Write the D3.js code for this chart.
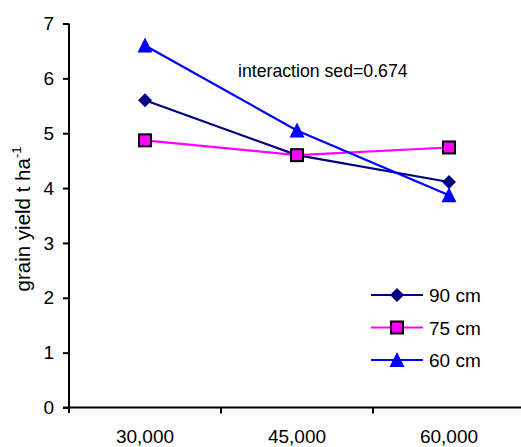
<!DOCTYPE html>
<html><head><meta charset="utf-8">
<script src="https://cdn.jsdelivr.net/npm/d3@7"></script>
<style>body{margin:0;background:#fff}svg{display:block;font-family:Arial,"Liberation Sans",sans-serif}</style>
</head><body>
<script>
const categories = ["30,000", "45,000", "60,000"];
const seriesNames = ["90 cm", "75 cm", "60 cm"];
const values90 = [5.60, 4.60, 4.11];
const values75 = [4.87, 4.60, 4.74];
const values60 = [6.60, 5.05, 3.87];
const yTicks = [0, 1, 2, 3, 4, 5, 6, 7];
const annotation = "interaction sed=0.674";

const W = 521, H = 447;
const svg = d3.select("body").append("svg").attr("width", W).attr("height", H);

const x = d3.scaleBand().domain(categories).range([69, 525]);
const y = d3.scaleLinear().domain([0, 7]).range([407.5, 23.5]);

const series = [
  {name: seriesNames[0], values: values90, color: "#000080", marker: "diamond"},
  {name: seriesNames[1], values: values75, color: "#FF00FF", marker: "square"},
  {name: seriesNames[2], values: values60, color: "#0000FF", marker: "triangle"}
];

// Y axis
const yAxis = svg.append("g").attr("transform", "translate(69,0)")
  .call(d3.axisLeft(y).tickValues(yTicks).tickSize(6).tickPadding(9).tickFormat(d3.format("d")));
yAxis.select(".domain").attr("stroke", "#000").attr("stroke-width", 2).attr("d", "M0,23.5V413");
yAxis.selectAll(".tick line").attr("stroke", "#000").attr("stroke-width", 2);
yAxis.selectAll(".tick text").attr("font-size", 19).attr("fill", "#000");

// X axis
const xAxis = svg.append("g").attr("transform", "translate(0,407.5)")
  .call(d3.axisBottom(x).tickSize(0));
xAxis.select(".domain").attr("stroke", "#000").attr("stroke-width", 2).attr("d", "M63,0H521");
xAxis.selectAll(".tick text").attr("font-size", 19).attr("fill", "#000").attr("y", 35.5).attr("dy", 0);
// separators between categories
xAxis.selectAll(".sep").data(categories.slice(1)).enter().append("line")
  .attr("class", "sep")
  .attr("x1", d => x(d)).attr("x2", d => x(d))
  .attr("y1", 0).attr("y2", 6)
  .attr("stroke", "#000").attr("stroke-width", 2);

// Y label
svg.append("text")
  .attr("transform", "translate(30,219) rotate(-90)")
  .attr("text-anchor", "middle").attr("font-size", 20.5).attr("fill", "#000")
  .text("grain yield t ha")
  .append("tspan").attr("font-size", 13).attr("dy", -9).text("-1");

// annotation
svg.append("text").attr("x", 238).attr("y", 77).attr("font-size", 17.7).attr("fill", "#000").text(annotation);

function drawMarker(g, type, color, cx, cy) {
  if (type === "diamond") {
    g.append("path").attr("d", `M${cx},${cy-7}L${cx+7},${cy}L${cx},${cy+7}L${cx-7},${cy}Z`).attr("fill", color);
  } else if (type === "square") {
    g.append("rect").attr("x", cx-6).attr("y", cy-6).attr("width", 12).attr("height", 12)
      .attr("fill", color).attr("stroke", "#000").attr("stroke-width", 2);
  } else {
    g.append("path").attr("d", `M${cx},${cy-8}L${cx+7.5},${cy+7}L${cx-7.5},${cy+7}Z`).attr("fill", color);
  }
}

const line = d3.line().x((d, i) => x(categories[i]) + x.bandwidth()/2).y(d => y(d));
series.forEach(s => {
  const g = svg.append("g");
  g.append("path").datum(s.values).attr("d", line).attr("fill", "none").attr("stroke", s.color).attr("stroke-width", 2.2);
  s.values.forEach((v, i) => drawMarker(g, s.marker, s.color, x(categories[i]) + x.bandwidth()/2, y(v)));
});

// legend
series.forEach((s, i) => {
  const ly = 295 + i * 32.5;
  const g = svg.append("g");
  g.append("line").attr("x1", 371).attr("x2", 423).attr("y1", ly).attr("y2", ly).attr("stroke", s.color).attr("stroke-width", 2.2);
  drawMarker(g, s.marker, s.color, 397, ly);
  g.append("text").attr("x", 429).attr("y", ly + 7).attr("font-size", 19).attr("fill", "#000").text(s.name);
});
</script>
</body></html>
